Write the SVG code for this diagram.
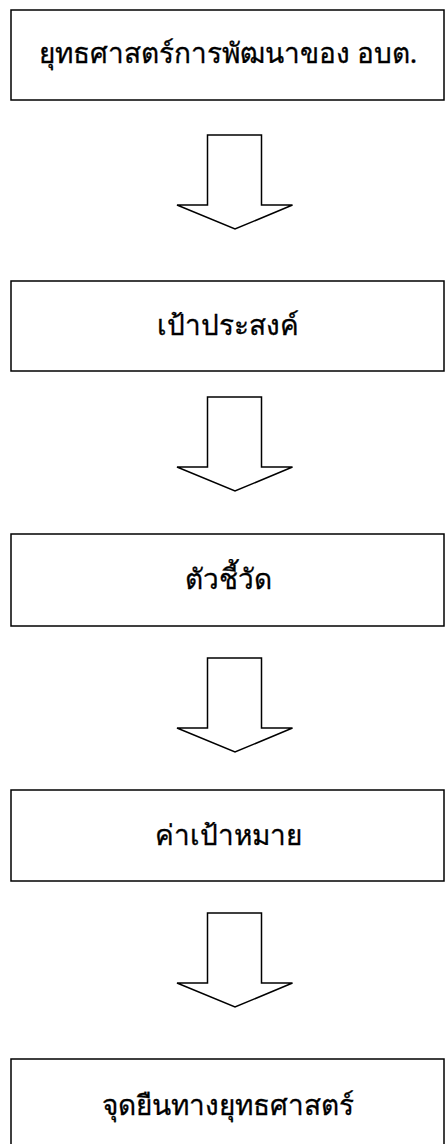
<svg xmlns="http://www.w3.org/2000/svg" width="446" height="1144" viewBox="0 0 446 1144">
<style>
.box{fill:#fff;stroke:#000;stroke-width:1.5}
.arr{fill:#fff;stroke:#000;stroke-width:1.5;stroke-linejoin:miter}
.lbl{font-family:"Noto Sans","DejaVu Sans",sans-serif;font-size:28px;fill:#000;stroke:#000;stroke-width:0.3;text-anchor:middle}
</style>
<rect width="446" height="1144" fill="#fff"/>
<defs>
<path id="darrow" d="M207.5,0 H261.5 V70 H292.5 L235,94 L177,70 H207.5 Z"/>
</defs>
<g id="n1"><rect class="box" x="11" y="10" width="433" height="90"/><text class="lbl" x="228" y="63">ยุทธศาสตร์การพัฒนาของ อบต.</text></g>
<g id="n2"><rect class="box" x="11" y="281" width="433" height="90"/><text class="lbl" x="228" y="335">เป้าประสงค์</text></g>
<g id="n3"><rect class="box" x="11" y="534" width="433" height="92"/><text class="lbl" x="228" y="589">ตัวชี้วัด</text></g>
<g id="n4"><rect class="box" x="11" y="790" width="433" height="91"/><text class="lbl" x="228" y="845">ค่าเป้าหมาย</text></g>
<g id="n5"><rect class="box" x="11" y="1059" width="433" height="100"/><text class="lbl" x="228" y="1115">จุดยืนทางยุทธศาสตร์</text></g>
<g id="connectors">
<use href="#darrow" class="arr" y="135"/>
<use href="#darrow" class="arr" y="397"/>
<use href="#darrow" class="arr" y="658"/>
<use href="#darrow" class="arr" y="913"/>
</g>
</svg>
